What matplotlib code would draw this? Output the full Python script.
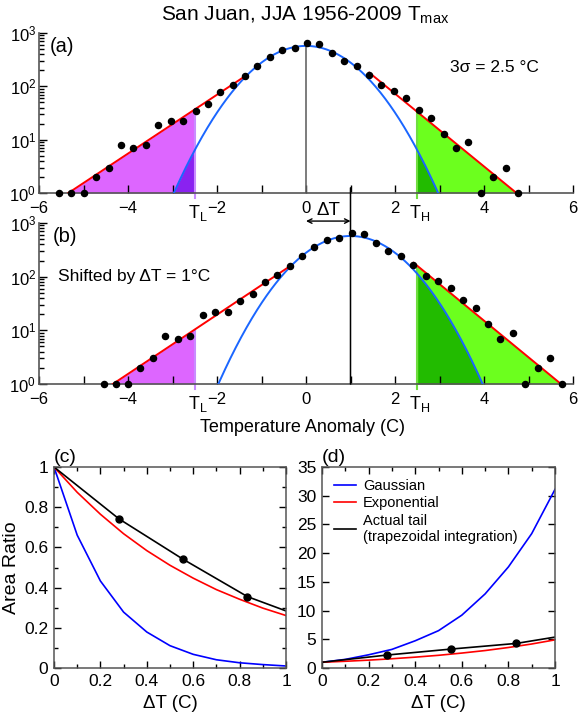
import matplotlib
matplotlib.use("Agg")
import matplotlib.pyplot as plt
import numpy as np
from matplotlib.patches import ConnectionPatch
from matplotlib.ticker import MultipleLocator, LogLocator, NullFormatter, FuncFormatter

plt.rcParams["font.family"] = ["Liberation Sans", "DejaVu Sans"]
plt.rcParams["mathtext.fontset"] = "custom"
plt.rcParams["mathtext.rm"] = "Liberation Sans"
plt.rcParams["mathtext.it"] = "Liberation Sans:italic"
plt.rcParams["mathtext.bf"] = "Liberation Sans:bold"

# histogram of JJA Tmax anomalies (bin centres in C, counts)
bin_centers = [-5.55, -5.28, -5.00, -4.72, -4.43, -4.16, -3.88, -3.60, -3.32, -3.04,
               -2.76, -2.48, -2.20, -1.93, -1.65, -1.36, -1.09, -0.81, -0.53, -0.25,
               0.03, 0.30, 0.58, 0.85, 1.14, 1.41, 1.69, 1.97, 2.25, 2.53,
               2.81, 3.09, 3.36, 3.65, 3.93, 4.21, 4.49, 4.76]
counts = [1, 1, 1, 2, 3, 8, 7, 8, 19, 22,
          22, 35, 47, 78, 106, 157, 244, 360, 480, 518,
          660, 617, 418, 304, 244, 166, 105, 82, 61, 36,
          26, 13, 7, 9, 1, 2, 3, 1]

# fits
gauss_peak = 573
gauss_sigma = 2.5 / 3          # 3 sigma = 2.5 C
cold_fit_x = [-5.34, -1.33]
cold_fit_y = [1, 163]
warm_fit_x = [1.42, 4.73]
warm_fit_y = [181, 1]
T_L = -2.5
T_H = 2.5
shift = 1.0

# area ratio vs shift
dT = [0, 0.1, 0.2, 0.3, 0.4, 0.5, 0.6, 0.7, 0.8, 0.9, 1.0]
gauss_cold = [1.0, 0.661, 0.433, 0.278, 0.179, 0.111, 0.068, 0.041, 0.026, 0.017, 0.010]
exp_cold = [1.0, 0.874, 0.765, 0.668, 0.584, 0.511, 0.447, 0.390, 0.342, 0.298, 0.261]
gauss_warm = [1.0, 1.5, 2.3, 3.24, 4.74, 6.5, 9.2, 12.9, 17.6, 23.4, 31.1]
exp_warm = [1.0, 1.17, 1.37, 1.61, 1.89, 2.21, 2.60, 3.04, 3.57, 4.18, 4.90]
tail_dT = [0, 0.28, 0.555, 0.834, 1.0]
tail_cold = [1.0, 0.742, 0.542, 0.355, 0.284]
tail_warm = [1.0, 2.26, 3.3, 4.28, 5.38]

purple = "#dd66ff"
dark_purple = "#8a22f0"
green = "#6cff1e"
dark_green = "#22bb00"
blue_fit = "#1a66ff"
spine_gray = "#555555"

W, H = 578, 715
def fx(px):
    return px / W
def fy(py):
    return 1 - py / H

fig = plt.figure(figsize=(5.78, 7.15), dpi=100)

ax_a = fig.add_axes([fx(39), fy(193), fx(573) - fx(39), fy(33) - fy(193)])
ax_b = fig.add_axes([fx(39), fy(384), fx(573) - fx(39), fy(223) - fy(384)])
ax_c = fig.add_axes([fx(54), fy(668), fx(286) - fx(54), fy(467) - fy(668)])
ax_d = fig.add_axes([fx(322), fy(668), fx(555) - fx(322), fy(467) - fy(668)])


def tail_panel(ax, dx):
    xs = np.array(bin_centers) + dx
    gx = np.linspace(-4.5, 4.5, 600) + dx
    gy = gauss_peak * np.exp(-(gx - dx) ** 2 / (2 * gauss_sigma ** 2))
    cx = np.array(cold_fit_x) + dx
    wx = np.array(warm_fit_x) + dx
    y_TL = 10 ** np.interp(T_L, cx, np.log10(cold_fit_y))
    y_TH = 10 ** np.interp(T_H, wx, np.log10(warm_fit_y))

    # exponential tails
    ax.fill_between([cx[0], T_L], [1, 1], [1, y_TL], color=purple, lw=0)
    ax.fill_between([T_H, wx[1]], [1, 1], [y_TH, 1], color=green, lw=0)
    # gaussian tails
    m = (gx <= T_L) & (gy > 1)
    if m.any():
        ax.fill_between(gx[m], 1, gy[m], color=dark_purple, lw=0)
    m = (gx >= T_H) & (gy > 1)
    if m.any():
        ax.fill_between(gx[m], 1, gy[m], color=dark_green, lw=0)

    ax.plot([T_L, T_L], [0.8, y_TL], color="#c98cff", lw=1.5, clip_on=False, zorder=2)
    ax.plot([T_H, T_H], [0.8, y_TH], color="#70dd40", lw=1.5, clip_on=False, zorder=2)

    ax.plot(gx, gy, color=blue_fit, lw=1.4, zorder=3)
    ax.plot(cx, cold_fit_y, color="red", lw=1.4, zorder=3)
    ax.plot(wx, warm_fit_y, color="red", lw=1.4, zorder=3)
    ax.plot(xs, counts, "o", color="k", ms=4.4, zorder=4, clip_on=False)

    ax.set_yscale("log")
    ax.set_ylim(1, 1000)
    ax.set_xlim(-6, 6)
    ax.spines["top"].set_visible(False)
    ax.spines["right"].set_visible(False)
    for s in ("left", "bottom"):
        ax.spines[s].set_color(spine_gray)
        ax.spines[s].set_linewidth(1.2)
    ax.xaxis.set_major_locator(MultipleLocator(2))
    ax.xaxis.set_minor_locator(MultipleLocator(1))
    ax.yaxis.set_major_locator(LogLocator(base=10))
    ax.yaxis.set_minor_locator(LogLocator(base=10, subs=np.arange(2, 10)))
    ax.yaxis.set_minor_formatter(NullFormatter())
    ax.tick_params(which="both", direction="in", labelsize=12, color="k", width=1)
    ax.tick_params(axis="x", which="both", length=6, pad=6)
    ax.tick_params(axis="y", which="major", length=6, pad=2)
    ax.tick_params(axis="y", which="minor", length=3.5)

    for t, sub in ((T_L, "L"), (T_H, "H")):
        ax.annotate("T$_{\\mathregular{%s}}$" % sub, xy=(t, 0), xycoords=("data", "axes fraction"),
                    xytext=(2, -7), textcoords="offset points", ha="center", va="top", fontsize=13)


tail_panel(ax_a, 0.0)
tail_panel(ax_b, shift)

ax_a.plot([0, 0], [1, 650], color="#666666", lw=1.2, zorder=2)
link = ConnectionPatch(xyA=(shift, 1), coordsA=ax_b.transData,
                       xyB=(shift, 1.25), coordsB=ax_a.transData, color="k", lw=1.1)
fig.add_artist(link)

ax_b.annotate("", xy=(0, 1.012), xycoords=("data", "axes fraction"),
              xytext=(shift, 1.012), textcoords=("data", "axes fraction"),
              arrowprops=dict(arrowstyle="<->", lw=1, color="k", shrinkA=0, shrinkB=0,
                              mutation_scale=8))
ax_b.text(0.5, 1.075, "\u0394T", transform=ax_b.get_xaxis_transform(), ha="center",
          va="center", fontsize=13.5)

fig.text(fx(305), fy(15), "San Juan, JJA 1956-2009 T$_{\\mathregular{max}}$", ha="center",
         va="center", fontsize=15)
fig.text(fx(50), fy(47), "(a)", ha="left", va="center", fontsize=14.5)
fig.text(fx(450), fy(67), "3\u03c3 = 2.5 \u00b0C", ha="left", va="center", fontsize=12.5)
fig.text(fx(53), fy(236), "(b)", ha="left", va="center", fontsize=14.5)
fig.text(fx(58), fy(277), "Shifted by \u0394T = 1\u00b0C", ha="left", va="center", fontsize=12.5)
fig.text(fx(303), fy(427), "Temperature Anomaly (C)", ha="center", va="center", fontsize=13)


def ratio_panel(ax, label):
    ax.set_xlim(0, 1)
    ax.xaxis.set_major_locator(MultipleLocator(0.2))
    ax.xaxis.set_minor_locator(MultipleLocator(0.1))
    ax.xaxis.set_major_formatter(FuncFormatter(lambda v, p: "%g" % round(v, 2)))
    ax.yaxis.set_major_formatter(FuncFormatter(lambda v, p: "%g" % round(v, 2)))
    for s in ax.spines.values():
        s.set_color(spine_gray)
        s.set_linewidth(1.1)
    ax.tick_params(which="both", direction="in", top=True, right=True, labelsize=12.5, width=1)
    ax.tick_params(which="major", length=5, pad=4)
    ax.tick_params(which="minor", length=3)
    ax.set_xlabel("\u0394T (C)", fontsize=13.5, labelpad=5)
    ax.text(0, 1.005, label, transform=ax.transAxes, ha="left", va="bottom", fontsize=14)


ax_c.plot(dT, gauss_cold, color="blue", lw=1.2)
ax_c.plot(dT, exp_cold, color="red", lw=1.2)
ax_c.plot(tail_dT, tail_cold, color="k", lw=1.2, marker="o", ms=5, markevery=[1, 2, 3])
ax_c.set_ylim(0, 1)
ax_c.yaxis.set_major_locator(MultipleLocator(0.2))
ax_c.yaxis.set_minor_locator(MultipleLocator(0.1))
ax_c.set_ylabel("Area Ratio", fontsize=14, labelpad=3)
ratio_panel(ax_c, "(c)")

ax_d.plot(dT, gauss_warm, color="blue", lw=1.2, label="Gaussian")
ax_d.plot(dT, exp_warm, color="red", lw=1.2, label="Exponential")
ax_d.plot(tail_dT, tail_warm, color="k", lw=1.2, marker="o", ms=5, markevery=[1, 2, 3],
          label="Actual tail\n(trapezoidal integration)")
ax_d.set_ylim(0, 35)
ax_d.yaxis.set_major_locator(MultipleLocator(5))
ratio_panel(ax_d, "(d)")
leg = ax_d.legend(loc="upper left", frameon=False, fontsize=10.5, handlelength=1.5,
                  handletextpad=0.5, labelspacing=0.25, borderaxespad=0.4)
for h in leg.legend_handles:
    h.set_marker("")

fig.savefig("out.png", dpi=100, facecolor="white")
